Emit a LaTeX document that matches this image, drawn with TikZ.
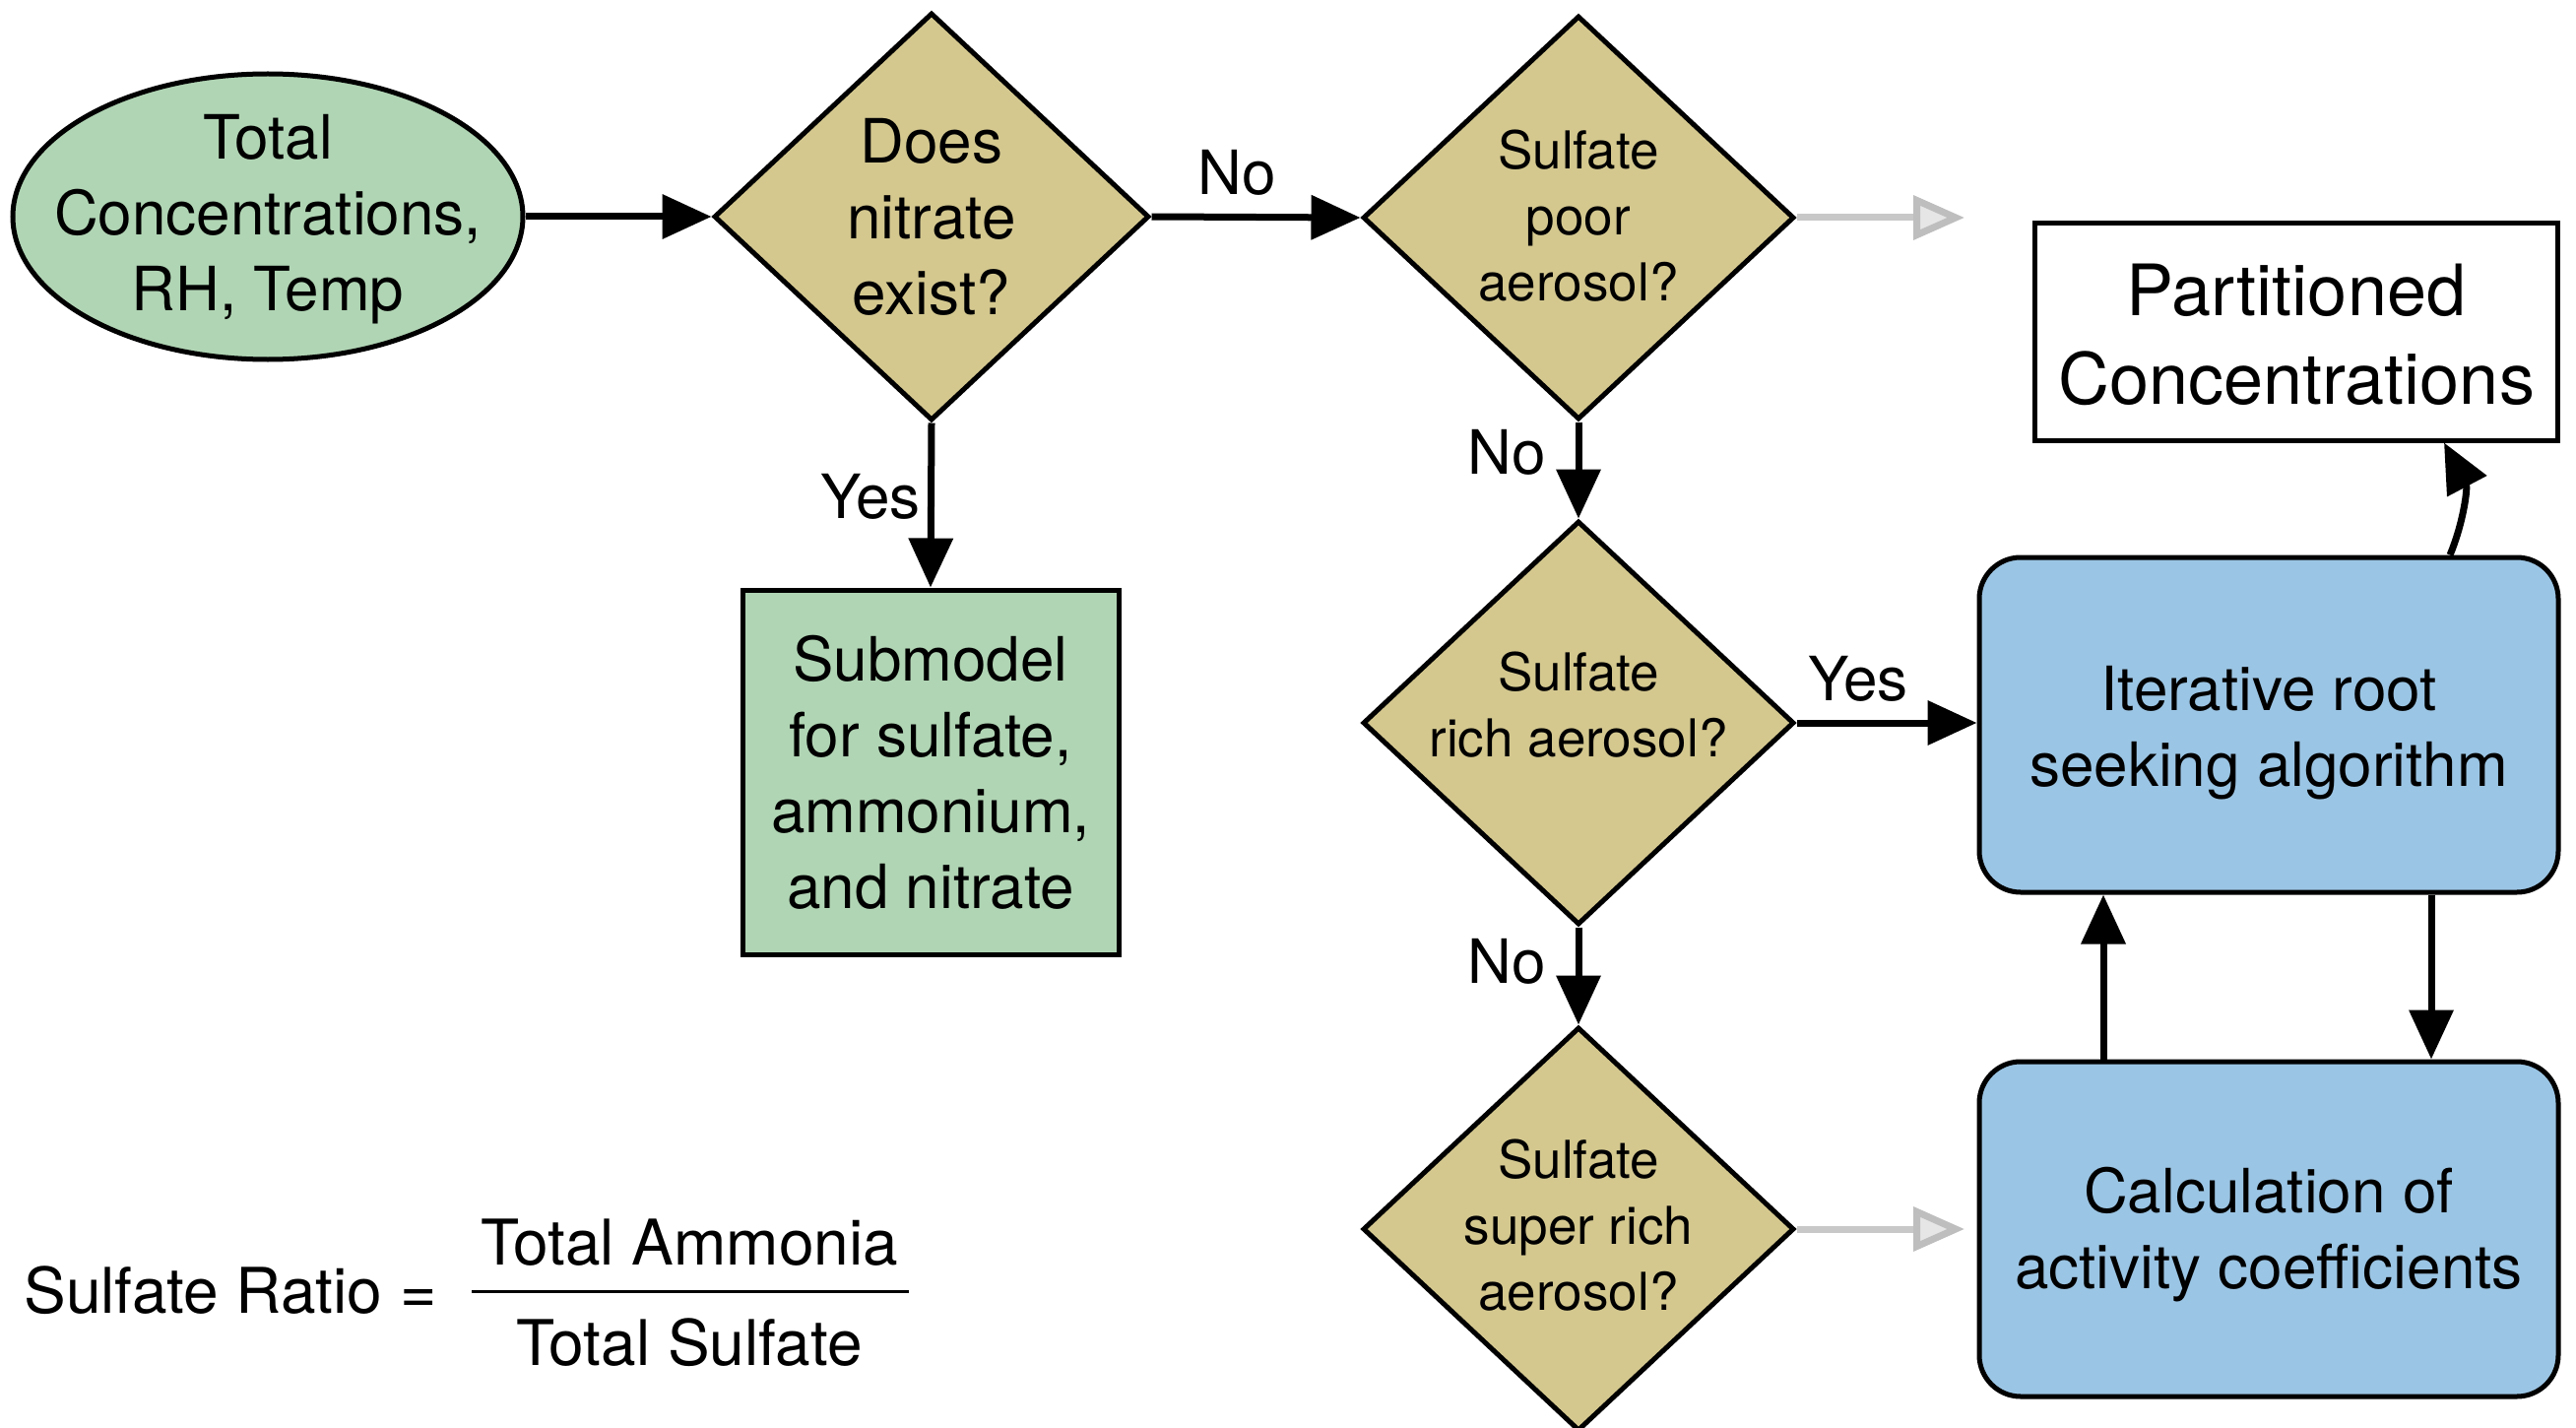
\documentclass[tikz,border=0pt]{standalone}
\usepackage{fontspec}
\setmainfont{TeX Gyre Heros}
\usetikzlibrary{shapes.geometric,arrows.meta}
\definecolor{cgreen}{RGB}{176,213,180}
\definecolor{ctan}{RGB}{212,200,143}
\definecolor{cblue}{RGB}{155,197,228}
\definecolor{cgrayl}{RGB}{200,200,200}
\definecolor{cgrayf}{RGB}{230,230,230}
\definecolor{cgrayb}{RGB}{190,190,190}
\begin{document}
\begin{tikzpicture}[x=1pt,y=-1pt,
  every node/.style={font=\fontsize{62}{77}\selectfont},
  dia/.style={diamond, draw, line width=5pt, fill=ctan, inner sep=0pt},
  dtext/.style={align=center, font=\fontsize{53}{67}\selectfont},
  btext/.style={align=center},
  box/.style={rectangle, draw, line width=5pt, inner sep=0pt, align=center},
  bluebox/.style={box, fill=cblue, rounded corners=42pt, minimum width=588pt, minimum height=340pt},
  arr/.style={line width=7pt, -{Triangle[length=50pt,width=44pt]}},
  grayarr/.style={line width=7pt, draw=cgrayl, -{Triangle[length=52pt,width=44pt,fill=cgrayf,color=cgrayb,line width=7pt]}},
  lbl/.style={font=\fontsize{62}{77}\selectfont},
  eqtext/.style={font=\fontsize{64}{77}\selectfont, inner sep=0pt}
]
\useasboundingbox (0,0) rectangle (2616,1450);

% start ellipse
\node[ellipse, draw, line width=5pt, fill=cgreen, minimum width=518pt, minimum height=290pt, inner sep=0pt] (start) at (272,220) {};
\node[btext] (startt) at (272,223) {Total\\Concentrations,\\RH, Temp};

% diamonds
\node[dia, minimum width=442pt, minimum height=414pt] (d1) at (946,220) {};
\node[btext] (d1t) at (946,220) {Does\\nitrate\\exist?};

\node[dia, minimum width=438pt, minimum height=410pt] (d2) at (1603,221) {};
\node[dtext] (d2t) at (1603,219) {Sulfate\\poor\\aerosol?};

\node[dia, minimum width=438pt, minimum height=410pt] (d3) at (1603,734) {};
\node[dtext] (d3t) at (1603,716) {Sulfate\\rich aerosol?};

\node[dia, minimum width=438pt, minimum height=410pt] (d4) at (1603,1248) {};
\node[dtext] (d4t) at (1603,1244) {Sulfate\\super rich\\aerosol?};

% boxes
\node[box, fill=cgreen, minimum width=382pt, minimum height=370pt] (sub) at (945,784) {Submodel\\for sulfate,\\ammonium,\\and nitrate};
\node[box, fill=white, minimum width=531pt, minimum height=220pt] (pc) at (2332,337) {};
\node[btext, font=\fontsize{72}{90}\selectfont] (pct) at (2332,340) {Partitioned\\Concentrations};
\node[bluebox] (b1) at (2304,736) {};
\node[btext] (b1t) at (2304,744) {Iterative root\\seeking algorithm};
\node[bluebox] (b2) at (2304,1248) {};
\node[btext] (b2t) at (2304,1254) {Calculation of\\activity coefficients};

% connectors
\draw[arr] (start.east) -- (d1.west);
\draw[arr] (d1.south) -- (sub.north);
\draw[arr] (d1.east) -- (d2.west);
\draw[arr] (d2.south) -- (d3.north);
\draw[arr] (d3.south) -- (d4.north);
\draw[arr] (d3.east) -- (b1.west |- d3.east);
\draw[arr] (2136,0 |- b2.north) -- (2136,0 |- b1.south);
\draw[arr] (2469,0 |- b1.south) -- (2469,0 |- b2.north);
\coordinate (cs) at (2488,0 |- b1.north);
\coordinate (ce) at (2482,0 |- pc.south);
\draw[arr] (cs) .. controls (2502,530) and (2506,495) .. (ce);

\coordinate (g1) at (1995,221);
\coordinate (g2) at (1995,1248);
\draw[grayarr] (d2.east) -- (g1);
\draw[grayarr] (d4.east) -- (g2);

% labels
\node[lbl] (l1) at (1256,175) {No};
\node[lbl] (l2) at (884,504) {Yes};
\node[lbl] (l3) at (1530,459) {No};
\node[lbl] (l4) at (1887,689) {Yes};
\node[lbl] (l5) at (1530,976) {No};

% equation
\node[eqtext] (sr) at (234,1310) {Sulfate Ratio =};
\node[eqtext] (num) at (700,1262) {Total Ammonia};
\node[eqtext] (den) at (700,1363) {Total Sulfate};
\coordinate (fl) at (479,1311);
\coordinate (fr) at (923,1311);
\draw[line width=3pt] (fl) -- (fr);
\end{tikzpicture}
\end{document}
